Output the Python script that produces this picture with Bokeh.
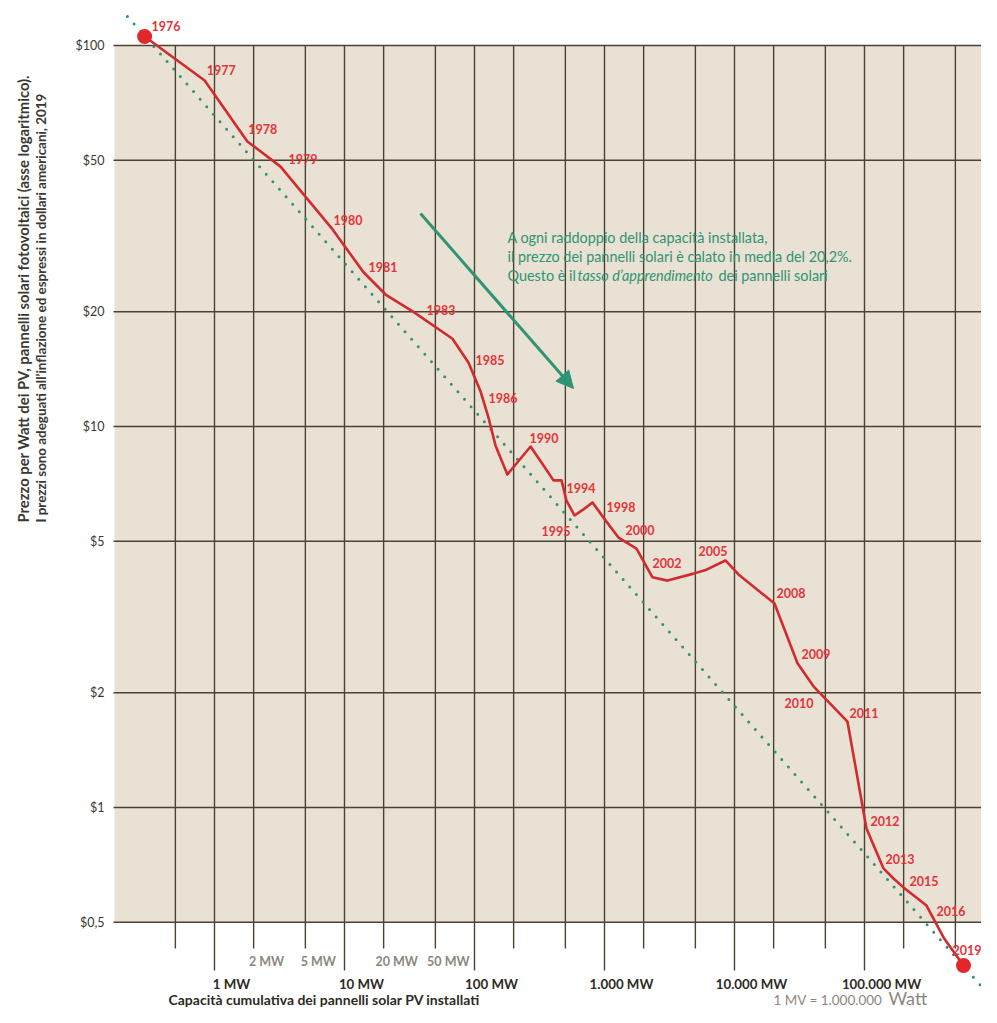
import math
from bokeh.plotting import figure
from bokeh.models import Range1d, Arrow, NormalHead, ColumnDataSource
from bokeh.embed import file_html
from bokeh.resources import INLINE
from bokeh.core.properties import value

# ---------------- data ----------------
years = list(range(1976, 2020))
capacity_mw = [0.29, 0.84, 1.79, 3.22, 8.1, 14.0, 20.7, 33.9, 67.7, 90, 111, 128, 145, 179,
               270, 352, 405, 467, 510, 588, 702, 753, 808, 1018, 1281, 1763, 2340, 3052,
               4837, 6089, 8528, 10734, 20310, 30520, 40530, 73980, 103600, 140000, 167100,
               199500, 299900, 405300, 483700, 577300]
price_usd = [105.6, 80.9, 56.0, 48.1, 32.9, 25.4, 22.2, 20.0, 17.0, 14.7, 12.4, 10.56, 8.92, 7.48,
             8.86, 7.76, 7.22, 7.22, 6.39, 5.84, 6.09, 6.20, 6.32, 5.67, 5.11, 4.78, 4.02, 3.94,
             4.11, 4.21, 4.45, 4.09, 3.43, 2.39, 2.08, 1.68, 0.881, 0.692, 0.651, 0.617, 0.553,
             0.456, 0.419, 0.385]

label_years = [1976, 1977, 1978, 1979, 1980, 1981, 1983, 1985, 1986, 1990, 1994, 1995, 1998,
               2000, 2002, 2005, 2008, 2009, 2010, 2011, 2012, 2013, 2015, 2016, 2019]
label_dx = [7, 2, 1, 8, 1, 5, 13, 7, 8, -1, 0, -33, 14, 7, 0, -8, 2, 4, -29, 2, 4, 2, 6, 10, -11]
label_dy = [-10, -11, -12, -8, -9, -5, -2, -3, 7, -9, -13, 16, 5, -8, -14, -19, -11, -9, 17, -9, -7, -9, -6, 5, -15]

trend_cap = [0.214, 1.02e6]
trend_price = [119.1, 0.308]

y_ticks = [100, 50, 20, 10, 5, 2, 1, 0.5]
y_tick_labels = ["$100", "$50", "$20", "$10", "$5", "$2", "$1", "$0,5"]
x_major = [1, 10, 100, 1000, 10000, 100000]
x_major_labels = ["1 MW", "10 MW", "100 MW", "1.000 MW", "10.000 MW", "100.000 MW"]
x_minor = [0.5, 2, 5, 20, 50, 200, 500, 2000, 5000, 20000, 50000, 200000, 500000]
x_minor_labeled = [2, 5, 20, 50]
x_minor_labels = ["2 MW", "5 MW", "20 MW", "50 MW"]

# ---------------- layout helpers (layout pixel -> data) ----------------
W, H = 981, 1007

def fx(px):
    return 10 ** ((px - 214) / 130)

def fy(py):
    return 10 ** (2 - (py - 45) / 381)

FONT = value("Lato")
BEIGE = "#E9E1D3"
GRID = "#4a4334"
RED_LINE = "#d22a2d"
RED_TEXT = "#e3343a"
GREEN = "#2f9474"
DARK = "#2e2a24"
GRAY = "#8c877d"

p = figure(width=W, height=H, x_axis_type="log", y_axis_type="log",
           x_range=Range1d(fx(0), fx(W)), y_range=Range1d(fy(H), fy(0)),
           output_backend="svg", toolbar_location=None,
           x_axis_location=None, y_axis_location=None, min_border=0,
           outline_line_color=None, background_fill_color="white",
           border_fill_color="white")
for g in p.grid:
    g.visible = False

x_far = fx(W) * 3

# panel
p.quad(left=[fx(114)], right=[x_far], bottom=[min(y_ticks)], top=[max(y_ticks)],
       fill_color=BEIGE, line_color=None)

# horizontal grid lines
p.segment(x0=[fx(113)] * len(y_ticks), x1=[x_far] * len(y_ticks), y0=y_ticks, y1=y_ticks,
          line_color=GRID, line_width=1.4)
# vertical grid lines (extend below the panel as ticks)
p.segment(x0=x_major, x1=x_major, y0=[max(y_ticks)] * len(x_major), y1=[fy(970)] * len(x_major),
          line_color=GRID, line_width=1.4)
p.segment(x0=x_minor, x1=x_minor, y0=[max(y_ticks)] * len(x_minor), y1=[fy(948)] * len(x_minor),
          line_color=GRID, line_width=1.4)

# y tick labels
p.text(x=[fx(104)] * len(y_ticks), y=y_ticks, text=y_tick_labels, text_align="right",
       text_baseline="middle", text_font=FONT, text_font_size="12.5px", text_color="#3a3834")

# x tick labels
p.text(x=x_major, y=[fy(983)] * len(x_major), text=x_major_labels, text_align="center",
       text_baseline="middle", x_offset=17, text_font=FONT, text_font_size="13.3px",
       text_font_style="bold", text_color=DARK)
p.text(x=x_minor_labeled, y=[fy(961)] * len(x_minor_labeled), text=x_minor_labels,
       text_align="center", text_baseline="middle", x_offset=13, text_font=FONT,
       text_font_size="12.5px", text_font_style="bold", text_color=GRAY)

# trend (learning-rate) line
p.line(trend_cap, trend_price, line_color=GREEN, line_width=3, line_dash="0 10",
       line_cap="round")

# price line
p.line(capacity_mw, price_usd, line_color=RED_LINE, line_width=2.6, line_join="round")
p.scatter([capacity_mw[0], capacity_mw[-1]], [price_usd[0], price_usd[-1]], size=15,
          fill_color="#e3262b", line_color=None)

# year labels
idx = [years.index(y) for y in label_years]
lab_src = ColumnDataSource(dict(x=[capacity_mw[i] for i in idx], y=[price_usd[i] for i in idx],
                                text=[str(y) for y in label_years], dx=label_dx, dy=label_dy))
p.text(x="x", y="y", text="text", x_offset="dx", y_offset="dy", source=lab_src,
       text_align="left", text_baseline="middle", text_font=FONT, text_font_size="12.5px",
       text_font_style="bold", text_color=RED_TEXT)

# arrow + annotation
p.add_layout(Arrow(end=NormalHead(size=17, fill_color=GREEN, line_color=GREEN),
                   x_start=fx(420), y_start=fy(213), x_end=fx(573), y_end=fy(388),
                   line_color=GREEN, line_width=3))
p.text(x=[fx(507)] * 2, y=[fy(237), fy(256)],
       text=["A ogni raddoppio della capacità installata,",
             "il prezzo dei pannelli solari è calato in media del 20,2%."],
       text_align="left", text_baseline="middle", text_font=FONT, text_font_size="14.4px",
       text_color=GREEN)
p.text(x=[fx(507), fx(577), fx(718)], y=[fy(275)] * 3,
       text=["Questo è il", "tasso d’apprendimento", "dei pannelli solari"],
       text_font_style=["normal", "italic", "normal"],
       text_align="left", text_baseline="middle", text_font=FONT, text_font_size="14.4px",
       text_color=GREEN)

# axis titles
p.text(x=[fx(22)], y=[fy(522)],
       text=["Prezzo per Watt dei PV, pannelli solari fotovoltaici (asse logaritmico)."],
       angle=math.pi / 2, text_align="left", text_baseline="middle", text_font=FONT,
       text_font_size="14.8px", text_font_style="bold", text_color="#3a3834")
p.text(x=[fx(40)], y=[fy(522)],
       text=["I prezzi sono adeguati all’inflazione ed espressi in dollari americani, 2019"],
       angle=math.pi / 2, text_align="left", text_baseline="middle", text_font=FONT,
       text_font_size="13.4px", text_font_style="bold", text_color="#3a3834")
p.text(x=[fx(168)], y=[fy(999)], text=["Capacità cumulativa dei pannelli solar PV installati"],
       text_align="left", text_baseline="middle", text_font=FONT, text_font_size="14px",
       text_font_style="bold", text_color=DARK)
p.text(x=[fx(773)], y=[fy(999)], text=["1 MV = 1.000.000"], text_align="left",
       text_baseline="middle", text_font=FONT, text_font_size="13.5px", text_color=GRAY)
p.text(x=[fx(888)], y=[fy(997)], text=["Watt"], text_align="left",
       text_baseline="middle", text_font=FONT, text_font_size="18px", text_color=GRAY)

open("out.html", "w").write(file_html(p, INLINE))
